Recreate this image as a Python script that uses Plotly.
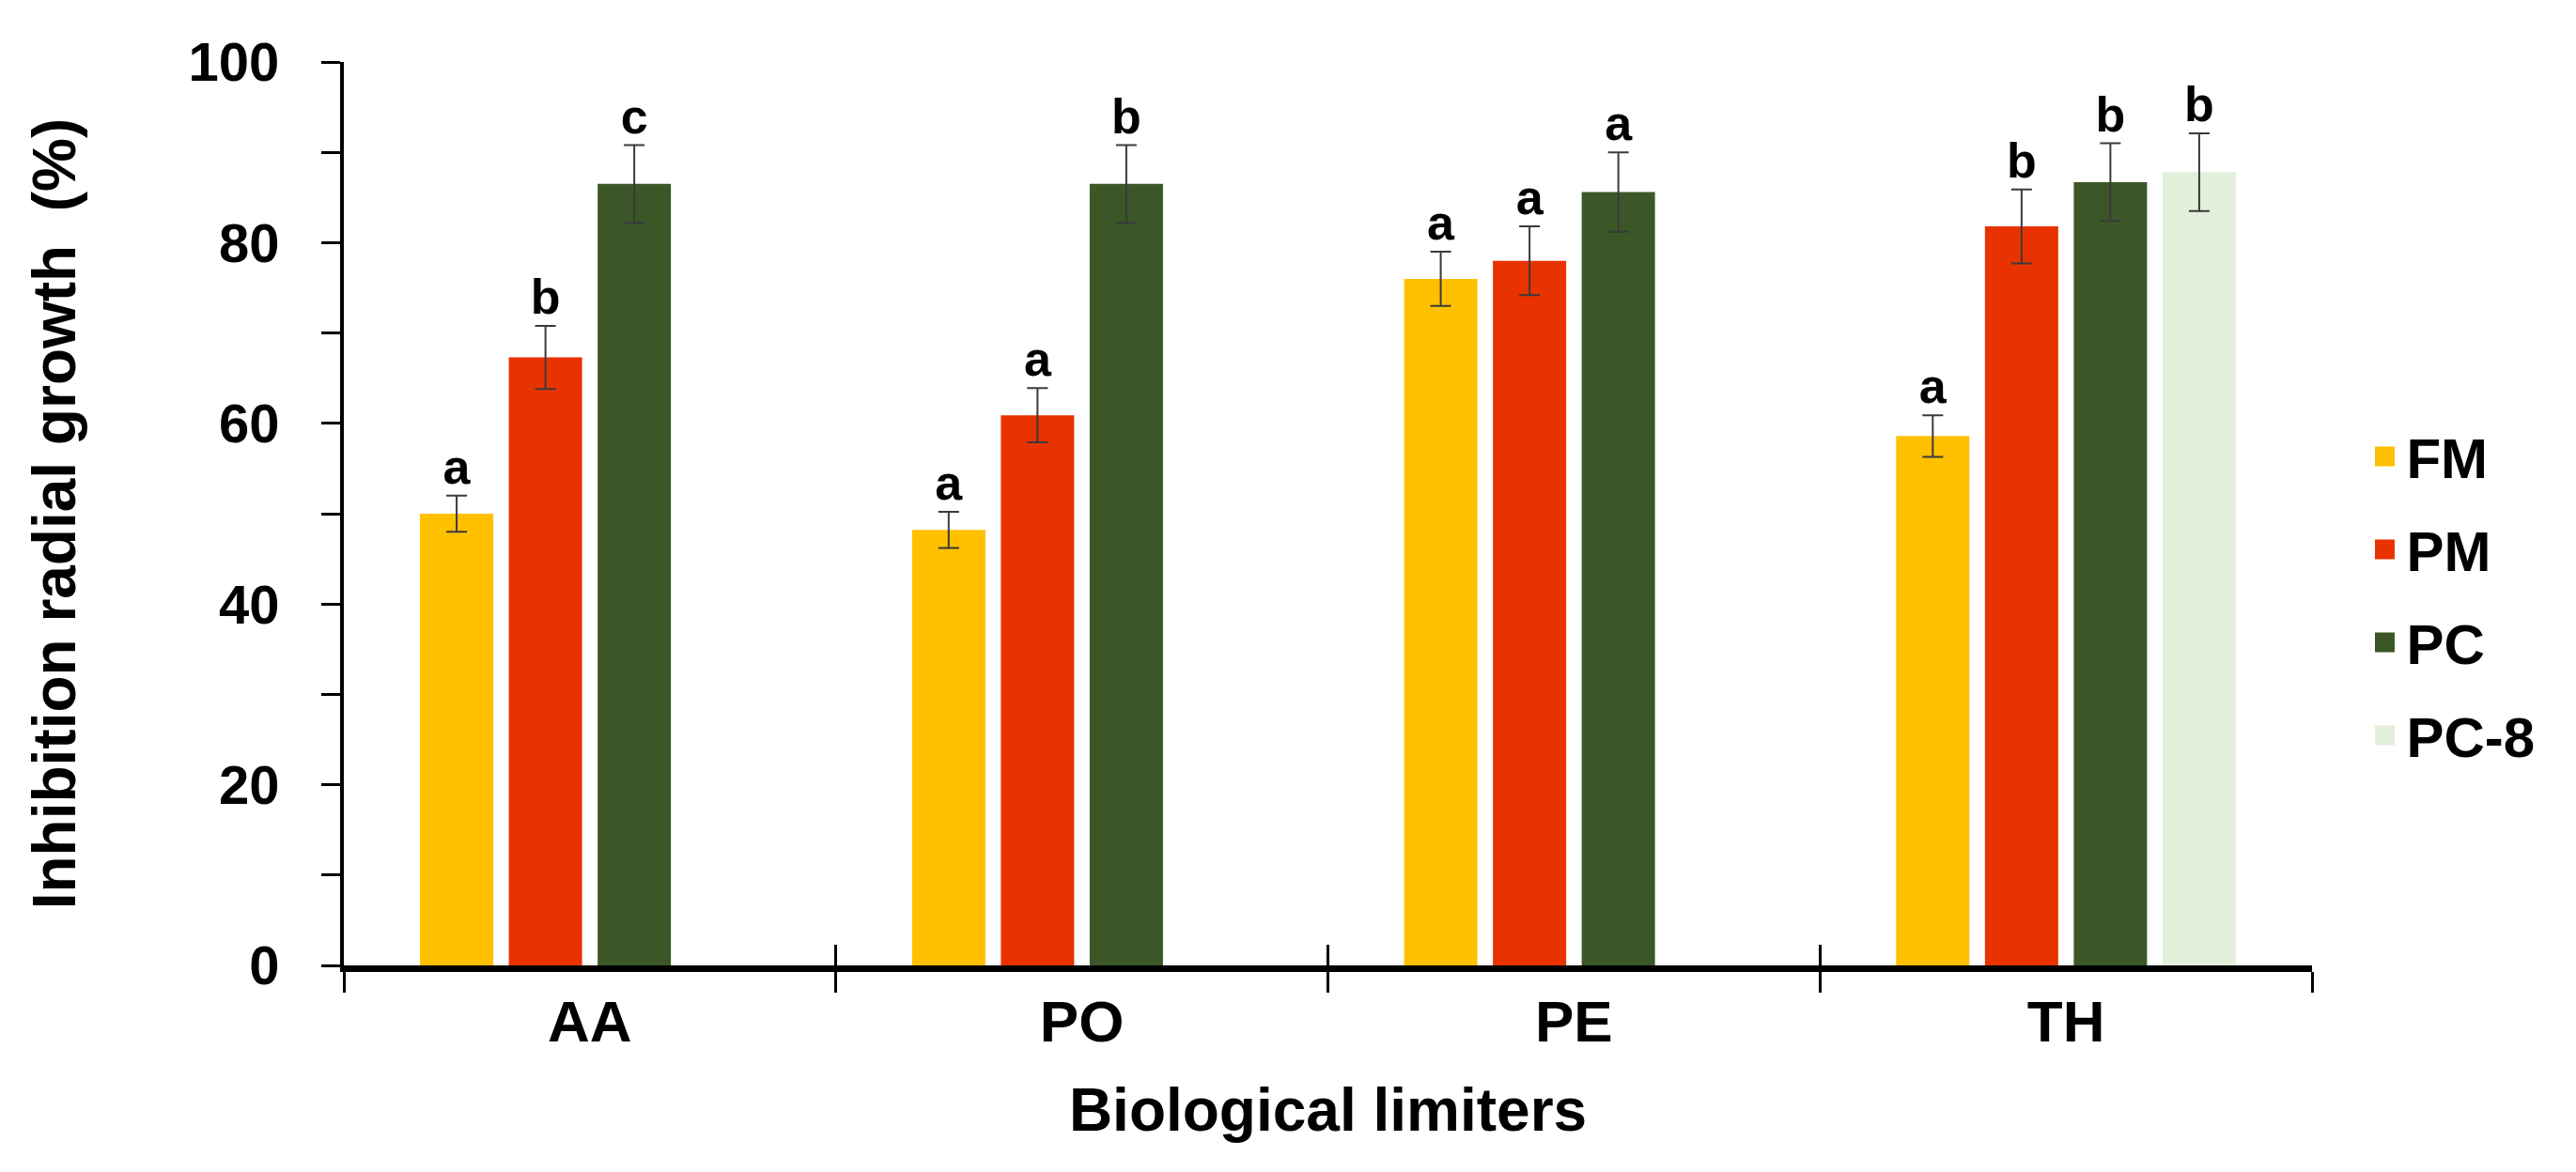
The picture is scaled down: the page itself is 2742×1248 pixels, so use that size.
import plotly.graph_objects as go

categories = ["AA", "PO", "PE", "TH"]
series_names = ["FM", "PM", "PC", "PC-8"]
series_colors = ["#FFC000", "#E83300", "#3B5727", "#E2EFDA"]

fm_values = [50.0, 48.2, 76.0, 58.6]
pm_values = [67.3, 60.9, 78.0, 81.8]
pc_values = [86.5, 86.5, 85.6, 86.7]
pc8_values = [None, None, None, 87.8]

fm_err = [2.0, 2.0, 3.0, 2.3]
pm_err = [3.5, 3.0, 3.8, 4.1]
pc_err = [4.3, 4.3, 4.4, 4.3]
pc8_err = [None, None, None, 4.3]

fm_letters = ["a", "a", "a", "a"]
pm_letters = ["b", "a", "a", "b"]
pc_letters = ["c", "b", "a", "b"]
pc8_letters = [None, None, None, "b"]

y_tick_values = [0, 20, 40, 60, 80, 100]

values = [fm_values, pm_values, pc_values, pc8_values]
errors = [fm_err, pm_err, pc_err, pc8_err]
letters = [fm_letters, pm_letters, pc_letters, pc8_letters]

FONT = "Liberation Sans, Arial, sans-serif"

fig = go.Figure()

# bars with error bars
for i, name in enumerate(series_names):
    xs = [c for c, v in zip(categories, values[i]) if v is not None]
    ys = [v for v in values[i] if v is not None]
    es = [e for e in errors[i] if e is not None]
    fig.add_trace(go.Bar(
        name=name, x=xs, y=ys, offsetgroup=str(i), legendgroup=name,
        showlegend=False,
        marker=dict(color=series_colors[i], line=dict(width=0)),
        error_y=dict(type="data", array=es, visible=True, color="#3a3a3a",
                     thickness=2, width=11),
    ))

# significance letters above error bars
for i, name in enumerate(series_names):
    xs = [c for c, v in zip(categories, values[i]) if v is not None]
    tops = [v + e for v, e in zip(values[i], errors[i]) if v is not None]
    ts = [t for t in letters[i] if t is not None]
    fig.add_trace(go.Scatter(
        x=xs, y=tops, text=ts, mode="text", textposition="top center",
        offsetgroup=str(i), showlegend=False, hoverinfo="skip",
        textfont=dict(family=FONT, size=52, color="black", weight="bold"),
    ))

# legend entries (larger square swatches)
for i, name in enumerate(series_names):
    fig.add_trace(go.Scatter(
        x=[None], y=[None], mode="markers", name=name, legendgroup=name,
        marker=dict(symbol="square", size=16, color=series_colors[i],
                    line=dict(width=5, color=series_colors[i])),
        hoverinfo="skip",
    ))

# helper trace so the overlay axis (upward boundary ticks) is drawn
fig.add_trace(go.Scatter(
    x=[-0.5, 3.5], y=[0, 0], xaxis="x2", yaxis="y", mode="markers",
    marker=dict(opacity=0, size=1), showlegend=False, hoverinfo="skip",
))

fig.update_layout(
    width=2742, height=1248,
    margin=dict(l=358, r=289, t=58, b=228),
    paper_bgcolor="white", plot_bgcolor="white",
    barmode="group", bargap=0.278, bargroupgap=0.175,
    scattermode="group", scattergap=0.278,
    font=dict(family=FONT, color="black", weight="bold"),
    showlegend=True,
    legend=dict(
        x=1.026, y=0.409, xanchor="left", yanchor="middle",
        font=dict(family=FONT, size=60, color="black", weight="bold"),
        tracegroupgap=18, bgcolor="rgba(0,0,0,0)", itemwidth=36,
    ),
    xaxis=dict(
        type="category", categoryorder="array", categoryarray=categories,
        range=[-0.5, 3.5],
        showline=True, linecolor="black", linewidth=7,
        ticks="outside", tickson="boundaries", ticklen=22, tickwidth=3,
        tickcolor="black",
        tickfont=dict(family=FONT, size=62, color="black", weight="bold"),
        showgrid=False, zeroline=False,
        title=dict(text="Biological limiters", standoff=40,
                   font=dict(family=FONT, size=64, color="black", weight="bold")),
    ),
    xaxis2=dict(
        overlaying="x", anchor="y", side="bottom", type="linear",
        range=[-0.5, 3.5], tickvals=[0.5, 1.5, 2.5, 3.5],
        ticks="inside", ticklen=22, tickwidth=3, tickcolor="black",
        showticklabels=False, showgrid=False, zeroline=False, showline=False,
    ),
    yaxis=dict(
        range=[0, 100], tickvals=y_tick_values,
        showline=True, linecolor="black", linewidth=4,
        ticks="outside", ticklen=20, tickwidth=3, tickcolor="black",
        minor=dict(dtick=10, ticks="outside", ticklen=20, tickwidth=3,
                   tickcolor="black", showgrid=False),
        ticklabelstandoff=33,
        tickfont=dict(family=FONT, size=58, color="black", weight="bold"),
        showgrid=False, zeroline=False,
        title=dict(text="Inhibition radial growth  (%)", standoff=100,
                   font=dict(family=FONT, size=64, color="black", weight="bold")),
    ),
)

fig.write_html("out.html")
